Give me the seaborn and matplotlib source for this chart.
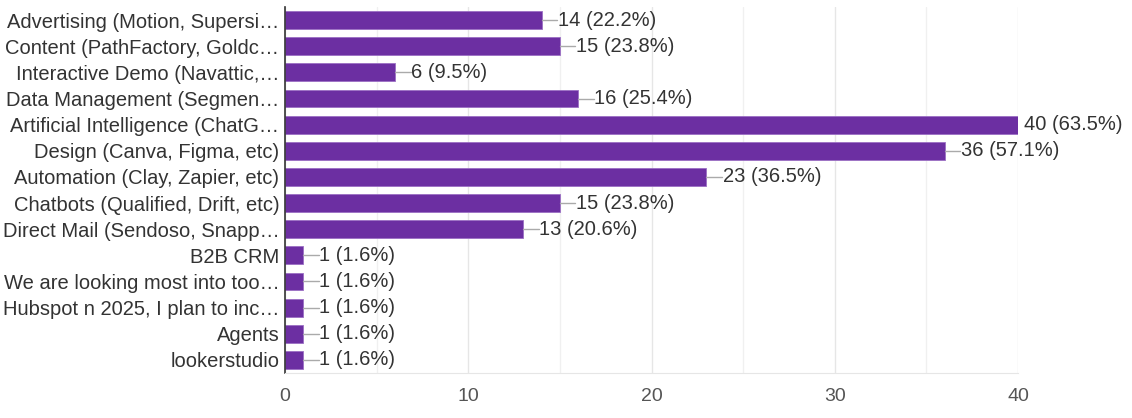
import matplotlib
matplotlib.use("Agg")
import matplotlib.pyplot as plt
import seaborn as sns
import pandas as pd
from matplotlib.ticker import MultipleLocator

categories = ['Advertising (Motion, Supersi…', 'Content (PathFactory, Goldc…',
              'Interactive Demo (Navattic,…', 'Data Management (Segmen…',
              'Artificial Intelligence (ChatG…', 'Design (Canva, Figma, etc)',
              'Automation (Clay, Zapier, etc)', 'Chatbots (Qualified, Drift, etc)',
              'Direct Mail (Sendoso, Snapp…', 'B2B CRM', 'We are looking most into too…',
              'Hubspot n 2025, I plan to inc…', 'Agents', 'lookerstudio']
counts = [14, 15, 6, 16, 40, 36, 23, 15, 13, 1, 1, 1, 1, 1]
percents = ['22.2%', '23.8%', '9.5%', '25.4%', '63.5%', '57.1%', '36.5%', '23.8%',
            '20.6%', '1.6%', '1.6%', '1.6%', '1.6%', '1.6%']

df = pd.DataFrame({'tool': categories, 'count': counts, 'pct': percents})

sns.set_style('white')
plt.rcParams['font.family'] = ['Liberation Sans', 'DejaVu Sans']

fig = plt.figure(figsize=(11.32, 4.18), dpi=100)
ax = fig.add_axes([0.2518, 0.1077, 0.6475, 0.8755])

sns.barplot(data=df, x='count', y='tool', orient='h', color='#6c2fa2',
            width=0.68, edgecolor='#9b6fc4', linewidth=0.6, saturation=1, ax=ax)

xmax = 40
for i, (v, p) in enumerate(zip(df['count'], df['pct'])):
    if v >= xmax:
        # label at the edge: no leader line, sits right after the bar
        ax.text(v + 0.3, i, f"{v} ({p})", va='center', ha='left', fontsize=14.5,
                color='#333333', clip_on=False)
    else:
        ax.plot([v, v + 0.85], [i, i], color='#aaaaaa', lw=1, zorder=1)
        ax.text(v + 0.88, i, f"{v} ({p})", va='center', ha='left', fontsize=14.5,
                color='#333333', clip_on=False)

ax.set_xlim(0, xmax)
ax.set_ylim(len(categories) - 0.5, -0.5)
ax.xaxis.set_major_locator(MultipleLocator(10))
ax.xaxis.set_minor_locator(MultipleLocator(5))
ax.grid(axis='x', which='major', color='#e6e6e6', lw=1)
ax.grid(axis='x', which='minor', color='#f0f0f0', lw=1)
ax.set_axisbelow(True)
ax.set_xlabel('')
ax.set_ylabel('')
ax.tick_params(axis='x', labelsize=14, labelcolor='#555555', length=0, pad=11)
ax.tick_params(axis='y', labelsize=14.5, labelcolor='#333333', length=0, pad=4)
for s in ['top', 'right']:
    ax.spines[s].set_visible(False)
ax.spines['left'].set_color('#333333')
ax.spines['left'].set_linewidth(1.2)
ax.spines['bottom'].set_color('#e6e6e6')

fig.savefig('out.png', dpi=100)
